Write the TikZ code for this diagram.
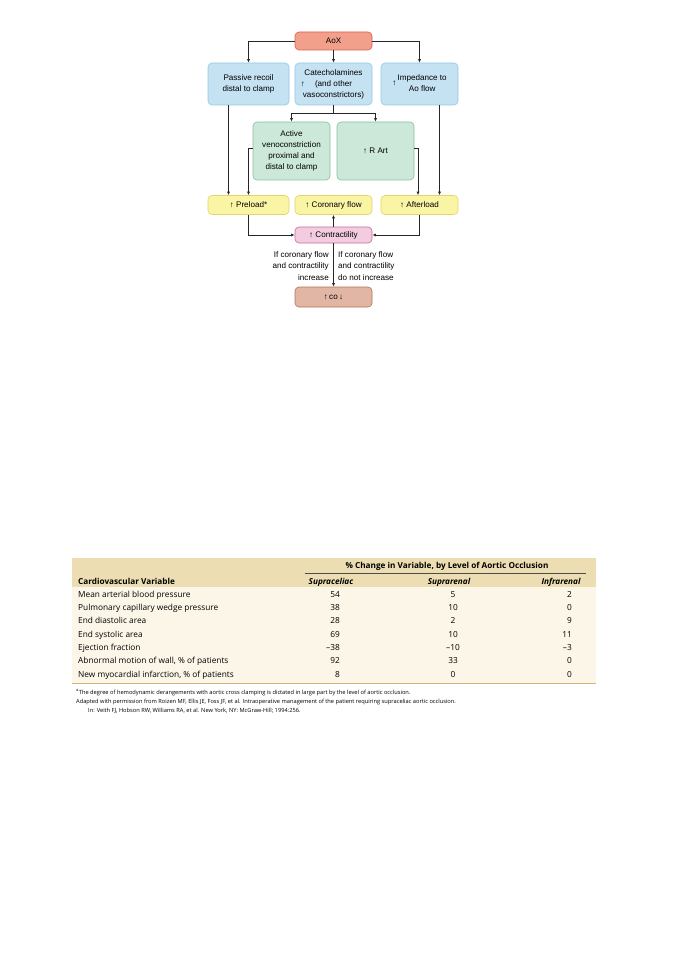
\documentclass[tikz,border=0pt]{standalone}
\usepackage{fontspec}
\setmainfont{Liberation Sans}
\newfontfamily\tabfont{Open Sans}
\usepackage{tikz}
\usetikzlibrary{arrows.meta,positioning}

\definecolor{aoxfill}{RGB}{242,160,140}
\definecolor{aoxline}{RGB}{215,95,75}
\definecolor{bluefill}{RGB}{196,226,242}
\definecolor{blueline}{RGB}{150,200,228}
\definecolor{greenfill}{RGB}{204,232,216}
\definecolor{greenline}{RGB}{135,192,162}
\definecolor{yelfill}{RGB}{250,244,165}
\definecolor{yelline}{RGB}{228,212,105}
\definecolor{pinkfill}{RGB}{244,204,226}
\definecolor{pinkline}{RGB}{200,105,155}
\definecolor{cofill}{RGB}{226,182,164}
\definecolor{coline}{RGB}{180,112,92}
\definecolor{headfill}{RGB}{236,222,178}
\definecolor{bodyfill}{RGB}{251,246,231}
\definecolor{ruletan}{RGB}{205,182,120}

\begin{document}
\begin{tikzpicture}[
    x=1pt, y=-1pt,
    >={Latex[length=3.5pt,width=3pt]},
    box/.style={draw, line width=0.6pt, rounded corners=4pt, align=center, inner sep=1pt,
        font=\fontsize{8.1}{11}\selectfont, minimum height=#1},
    box/.default=19pt,
    trigger/.style={box=18pt, fill=aoxfill, draw=aoxline, minimum width=77pt},
    cause/.style={box=42pt, fill=bluefill, draw=blueline, minimum width=77pt},
    venous/.style={box=58pt, fill=greenfill, draw=greenline, minimum width=77pt},
    effect/.style={box=19pt, fill=yelfill, draw=yelline, minimum width=77pt},
    pump/.style={box=16pt, fill=pinkfill, draw=pinkline, minimum width=77pt},
    output/.style={box=20pt, fill=cofill, draw=coline, minimum width=77pt},
    link/.style={->, line width=0.9pt, draw=black!85},
    note/.style={font=\fontsize{8.1}{11.3}\selectfont, inner sep=0pt},
    cell/.style={font=\tabfont\fontsize{8.3}{9}\selectfont, inner sep=0pt, anchor=base},
    headcell/.style={cell, font=\tabfont\bfseries\fontsize{8.2}{9}\selectfont},
    colhead/.style={cell, font=\tabfont\bfseries\itshape\fontsize{8.2}{9}\selectfont},
    foot/.style={font=\tabfont\fontsize{5.7}{7}\selectfont, inner sep=0pt, anchor=base west}
]
\useasboundingbox (0,0) rectangle (678,960);

% flow chart
\node[trigger] (aox) at (333.5,41) {AoX};
\node[cause, minimum width=81pt] (passive) at (248.5,84) {Passive recoil\\distal to clamp};
\node[cause] (catechol) at (333.5,84) {Catecholamines\\\llap{↑\hspace{10pt}}(and other\\vasoconstrictors)};
\node[cause] (impedance) at (419.5,84) {↑\,\begin{tabular}{@{}c@{}}Impedance to\\Ao flow\end{tabular}};
\node[venous] (veno) at (291.5,151) {Active\\venoconstriction\\proximal and\\distal to clamp};
\node[venous] (rart) at (375.5,151) {↑ R Art};
\node[effect, minimum width=81pt] (preload) at (248.5,205) {↑ Preload*};
\node[effect] (coronary) at (333.5,205) {↑ Coronary flow};
\node[effect] (afterload) at (419.5,205) {↑ Afterload};
\node[pump] (contract) at (333.5,235) {↑ Contractility};
\node[output] (co) at (333.5,297) {↑\,co\,↓};
\coordinate (split) at (333.5,113);

\draw[link] (aox) -| (passive);
\draw[link] (aox) -- (catechol);
\draw[link] (aox) -| (impedance);
\draw[line width=0.9pt, draw=black!85] (catechol) -- (split);
\draw[link] (split) -| (veno);
\draw[link] (split) -| (rart);
\draw[link] ([xshift=-20pt]passive.south) -- ([xshift=-20pt]preload.north);
\draw[link] ([yshift=3pt]veno.west) -| (preload);
\draw[link] ([yshift=3pt]rart.east) -| ([xshift=-1.5pt]afterload.north);
\draw[link] ([xshift=20pt]impedance.south) -- ([xshift=20pt]afterload.north);
\draw[link] (preload) |- (contract);
\draw[link] (afterload) |- (contract);
\draw[link] (contract) -- (coronary);
\draw[link] (contract) -- (co);

\node[note, align=right, anchor=east] (grow) at (329,266) {If coronary flow\\and contractility\\increase};
\node[note, align=left, anchor=west] (fall) at (338,266) {If coronary flow\\and contractility\\do not increase};

% table
\fill[bodyfill] (72,587) rectangle (596,683);
\fill[headfill] (72,558) rectangle (596,587);
\draw[ruletan, line width=0.8pt] (72,683.5) -- (596,683.5);
\draw[black!70, line width=0.5pt] (305,573) -- (586,573);

\node[headcell] (change) at (447,568) {\% Change in Variable, by Level of Aortic Occlusion};
\node[headcell, anchor=base west] (varhead) at (78,584) {Cardiovascular Variable};
\node[colhead] (supraceliac) at (331,584) {Supraceliac};
\node[colhead] (suprarenal) at (449,584) {Suprarenal};
\node[colhead] (infrarenal) at (561,584) {Infrarenal};

\foreach \name/\sc/\sr/\ir [count=\i] in {
    Mean arterial blood pressure/54/5/2,
    Pulmonary capillary wedge pressure/38/10/0,
    End diastolic area/28/2/9,
    End systolic area/69/10/11,
    Ejection fraction/\textendash38/\textendash10/\textendash3,
    {Abnormal motion of wall, \% of patients}/92/33/0,
    {New myocardial infarction, \% of patients}/8/0/0}{
  \node[cell, anchor=base west] (row\i) at (78,{584+13.3*\i}) {\name};
  \node[cell, anchor=base east] (sc\i) at (340,{584+13.3*\i}) {\sc};
  \node[cell] (sr\i) at (453,{584+13.3*\i}) {\sr};
  \node[cell, anchor=base east] (ir\i) at (572,{584+13.3*\i}) {\ir};
}

\node[foot] (fn1) at (76,694) {\textsuperscript{a}The degree of hemodynamic derangements with aortic cross clamping is dictated in large part by the level of aortic occlusion.};
\node[foot] (fn2) at (76,703) {Adapted with permission from Roizen MF, Ellis JE, Foss JF, et al. Intraoperative management of the patient requiring supraceliac aortic occlusion.};
\node[foot] (fn3) at (88,712) {In: Veith FJ, Hobson RW, Williams RA, et al. New York, NY: McGraw-Hill; 1994:256.};
\end{tikzpicture}
\end{document}
